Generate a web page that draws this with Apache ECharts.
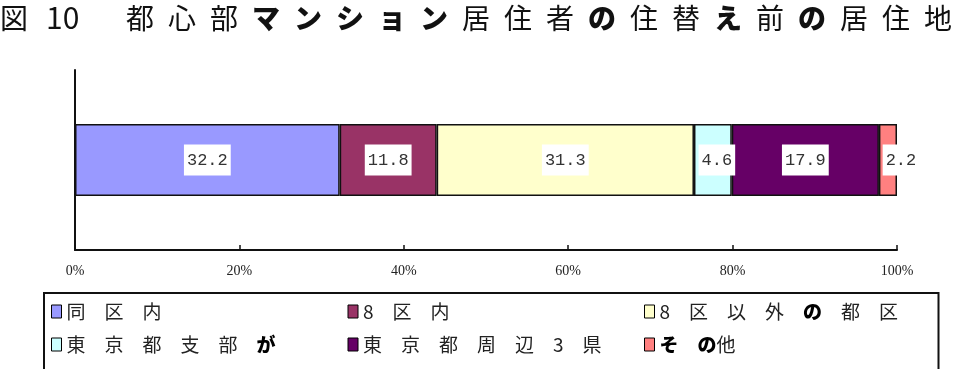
<!DOCTYPE html>
<html>
<head>
<meta charset="utf-8">
<script src="https://cdn.jsdelivr.net/npm/echarts@6/dist/echarts.min.js"></script>
<style>
  html, body { margin: 0; padding: 0; background: #fff; }
  #main { width: 960px; height: 369px; }
</style>
</head>
<body>
<div id="main"></div>
<script>
// 住替え前の居住地 (%)
const names = [
  '同　区　内',
  '8　区　内',
  '8　区　以　外　の　都　区',
  '東　京　都　支　部　が',
  '東　京　都　周　辺　3　県',
  'そ　の他'
];
const values = [32.2, 11.8, 31.3, 4.6, 17.9, 2.2];
const colors = ['#9999ff', '#993366', '#ffffcc', '#ccffff', '#660066', '#ff8080'];
const categories = [''];

const titleHead = '図';
const titleNum = '10';
const titleBody = '都心部マンション居住者の住替え前の居住地';
const boldChars = 'マンションのえ';

var myChart = echarts.init(document.getElementById('main'));

// タイトルは1文字ずつ並べる（字間が広いため）
const titleGraphics = [
  { type: 'text', left: 0, top: 4, style: { text: titleHead, font: '28px "Noto Sans CJK JP"', fill: '#111' } },
  { type: 'text', left: 46, top: 3, style: { text: titleNum, font: '30px "Noto Sans CJK JP"', fill: '#111' } }
];
titleBody.split('').forEach(function (ch, i) {
  const bold = boldChars.indexOf(ch) >= 0;
  titleGraphics.push({
    type: 'text',
    left: 126 + i * 42,
    top: 4,
    style: {
      text: ch,
      font: (bold ? '900 ' : '') + '28px "Noto Sans CJK JP"',
      fill: '#111'
    }
  });
});

const legendRich = {
  n: { fontFamily: 'Noto Sans CJK JP', fontSize: 19, color: '#222' },
  b: { fontFamily: 'Noto Sans CJK JP', fontSize: 19, fontWeight: 900, color: '#000' }
};

myChart.setOption({
  animation: false,
  graphic: titleGraphics,
  grid: { left: 75, right: 63, top: 70, bottom: 119 },
  legend: {
    left: 44,
    top: 293,
    width: 920,
    padding: [7, 8, 30, 7],
    borderColor: '#111',
    borderWidth: 2,
    itemWidth: 10,
    itemHeight: 13,
    itemGap: 10,
    icon: 'rect',
    itemStyle: { borderColor: '#000', borderWidth: 1 },
    data: names,
    formatter: function (name) {
      return name.split('').map(function (ch) {
        return 'のがそ'.indexOf(ch) >= 0 ? '{b|' + ch + '}' : '{n|' + ch + '}';
      }).join('');
    },
    textStyle: {
      width: 271,
      lineHeight: 23,
      fontFamily: 'Noto Sans CJK JP',
      fontSize: 19,
      rich: legendRich
    }
  },
  xAxis: {
    type: 'value',
    min: 0,
    max: 100,
    interval: 20,
    axisLine: { show: true, lineStyle: { color: '#111', width: 2 } },
    axisTick: { show: true, inside: true, length: 5, lineStyle: { color: '#111', width: 1.5 } },
    splitLine: { show: false },
    axisLabel: {
      formatter: '{value}%',
      fontFamily: 'Liberation Serif',
      fontSize: 14,
      color: '#222',
      margin: 14
    }
  },
  yAxis: {
    type: 'category',
    data: categories,
    axisLine: { show: true, lineStyle: { color: '#111', width: 2 } },
    axisTick: { show: false },
    axisLabel: { show: false }
  },
  series: names.map(function (name, i) {
    return {
      name: name,
      type: 'bar',
      stack: 'total',
      barWidth: 72,
      data: [values[i]],
      itemStyle: { color: colors[i], borderColor: '#111', borderWidth: 1.5 },
      label: {
        show: true,
        position: 'inside',
        offset: i === names.length - 1 ? [13, 0] : (i === 3 ? [4, 0] : [0, 0]),
        formatter: function (p) { return p.value.toFixed(1); },
        fontFamily: 'Liberation Mono',
        fontSize: 17,
        color: '#333',
        backgroundColor: '#fff',
        padding: [7, 3]
      }
    };
  })
});
</script>
</body>
</html>
